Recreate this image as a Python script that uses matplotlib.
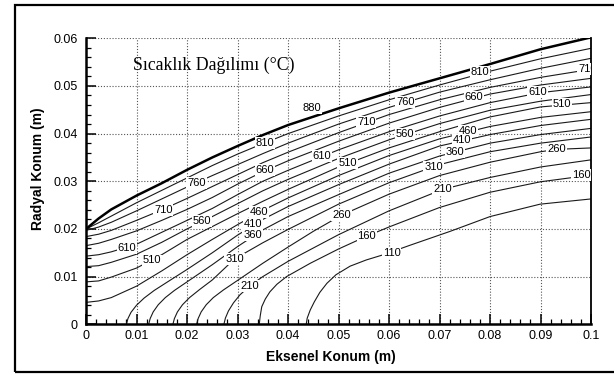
import matplotlib
matplotlib.use("Agg")
import matplotlib.pyplot as plt
from matplotlib.patches import Rectangle

plt.rcParams["font.family"] = ["Liberation Sans", "DejaVu Sans"]

# common x positions (m) for the isotherms that start on the left edge
X_LEFT = [0.0, 0.0025, 0.005, 0.01, 0.015, 0.02, 0.025, 0.03, 0.035, 0.04,
          0.05, 0.06, 0.07, 0.08, 0.09, 0.1]

# bold upper boundary (880)
Y_880 = [0.0200, 0.0222, 0.0241, 0.0270, 0.0296, 0.0324, 0.0350, 0.0374, 0.0397, 0.0418,
         0.0453, 0.0486, 0.0516, 0.0546, 0.0577, 0.0602]
Y_810 = [0.0200, 0.0213, 0.0227, 0.0255, 0.0281, 0.0307, 0.0333, 0.0357, 0.0379, 0.0400,
         0.0437, 0.0471, 0.0502, 0.0531, 0.0557, 0.0579]
Y_760 = [0.0197, 0.0204, 0.0214, 0.0238, 0.0263, 0.0288, 0.0312, 0.0335, 0.0358, 0.0380,
         0.0420, 0.0455, 0.0487, 0.0513, 0.0537, 0.0558]
Y_710 = [0.0184, 0.0189, 0.0197, 0.0218, 0.0240, 0.0264, 0.0289, 0.0314, 0.0339, 0.0361,
         0.0402, 0.0440, 0.0471, 0.0497, 0.0518, 0.0535]
Y_660 = [0.0165, 0.0170, 0.0178, 0.0196, 0.0218, 0.0241, 0.0266, 0.0294, 0.0320, 0.0343,
         0.0384, 0.0422, 0.0455, 0.0483, 0.0502, 0.0516]
Y_610 = [0.0143, 0.0146, 0.0152, 0.0168, 0.0193, 0.0218, 0.0243, 0.0272, 0.0300, 0.0323,
         0.0366, 0.0404, 0.0437, 0.0465, 0.0486, 0.0498]
Y_560 = [0.0121, 0.0123, 0.0130, 0.0147, 0.0172, 0.0200, 0.0226, 0.0253, 0.0280, 0.0304,
         0.0348, 0.0387, 0.0421, 0.0449, 0.0468, 0.0482]
Y_510 = [0.0089, 0.0091, 0.0099, 0.0118, 0.0146, 0.0178, 0.0205, 0.0232, 0.0258, 0.0283,
         0.0330, 0.0370, 0.0404, 0.0435, 0.0456, 0.0465]
Y_460 = [0.0046, 0.0049, 0.0056, 0.0080, 0.0112, 0.0146, 0.0178, 0.0209, 0.0239, 0.0265,
         0.0312, 0.0354, 0.0389, 0.0415, 0.0434, 0.0446]

# isotherms that start on the bottom axis
X_410 = [0.0080, 0.0083, 0.0089, 0.0100, 0.0115, 0.0135, 0.0160, 0.0200, 0.0250, 0.0300,
         0.0350, 0.0400, 0.0500, 0.0600, 0.0700, 0.0800, 0.0900, 0.1000]
Y_410 = [0.0, 0.0012, 0.0025, 0.0040, 0.0055, 0.0071, 0.0088, 0.0115, 0.0150, 0.0187,
         0.0220, 0.0247, 0.0293, 0.0336, 0.0374, 0.0398, 0.0417, 0.0430]
X_360 = [0.0124, 0.0127, 0.0133, 0.0143, 0.0157, 0.0175, 0.0200, 0.0250, 0.0300, 0.0350,
         0.0400, 0.0500, 0.0600, 0.0700, 0.0800, 0.0900, 0.1000]
Y_360 = [0.0, 0.0012, 0.0026, 0.0041, 0.0056, 0.0071, 0.0089, 0.0125, 0.0163, 0.0198,
         0.0226, 0.0272, 0.0317, 0.0353, 0.0380, 0.0398, 0.0411]
X_310 = [0.0172, 0.0175, 0.0181, 0.0191, 0.0205, 0.0225, 0.0250, 0.0294, 0.0350, 0.0400,
         0.0500, 0.0600, 0.0700, 0.0800, 0.0900, 0.1000]
Y_310 = [0.0, 0.0012, 0.0026, 0.0041, 0.0056, 0.0073, 0.0093, 0.0137, 0.0171, 0.0199,
         0.0252, 0.0297, 0.0335, 0.0362, 0.0380, 0.0393]
X_260 = [0.0219, 0.0222, 0.0228, 0.0238, 0.0252, 0.0272, 0.0300, 0.0350, 0.0400, 0.0450,
         0.0506, 0.0600, 0.0700, 0.0800, 0.0900, 0.0932, 0.1000]
Y_260 = [0.0, 0.0012, 0.0026, 0.0041, 0.0056, 0.0072, 0.0092, 0.0128, 0.0162, 0.0195,
         0.0229, 0.0273, 0.0312, 0.0340, 0.0362, 0.0367, 0.0370]
X_210 = [0.0273, 0.0276, 0.0282, 0.0292, 0.0305, 0.0325, 0.0350, 0.0400, 0.0450, 0.0500,
         0.0600, 0.0706, 0.0800, 0.0900, 0.1000]
Y_210 = [0.0, 0.0013, 0.0028, 0.0045, 0.0062, 0.0081, 0.0100, 0.0132, 0.0160, 0.0188,
         0.0238, 0.0283, 0.0308, 0.0330, 0.0345]
X_160 = [0.0343, 0.0345, 0.0348, 0.0355, 0.0364, 0.0378, 0.0397, 0.0444, 0.0500, 0.0556,
         0.0602, 0.0700, 0.0800, 0.0900, 0.1000]
Y_160 = [0.0, 0.0018, 0.0037, 0.0053, 0.0068, 0.0084, 0.0100, 0.0128, 0.0158, 0.0185,
         0.0205, 0.0245, 0.0277, 0.0299, 0.0313]
X_110 = [0.0436, 0.0438, 0.0444, 0.0452, 0.0463, 0.0477, 0.0495, 0.0523, 0.0555, 0.0589,
         0.0642, 0.0721, 0.0800, 0.0899, 0.1000]
Y_110 = [0.0, 0.0013, 0.0030, 0.0047, 0.0067, 0.0086, 0.0104, 0.0122, 0.0135, 0.0146,
         0.0166, 0.0195, 0.0226, 0.0252, 0.0263]

# contour labels (text, x, y)
LABEL_TEXT = ["880", "810", "810", "760", "760", "710", "710", "710", "660", "660",
              "610", "610", "610", "560", "560", "510", "510", "510", "460", "460",
              "410", "410", "360", "360", "310", "310", "260", "260", "210", "210",
              "160", "160", "110"]
LABEL_X = [0.0447, 0.0354, 0.0780, 0.0219, 0.0632, 0.0153, 0.0555, 0.0993, 0.0354, 0.0768,
           0.0081, 0.0467, 0.0894, 0.0229, 0.0632, 0.0130, 0.0518, 0.0942, 0.0342, 0.0757,
           0.0330, 0.0744, 0.0330, 0.0731, 0.0294, 0.0688, 0.0506, 0.0932, 0.0325, 0.0706,
           0.0556, 0.0980, 0.0605]
LABEL_Y = [0.0453, 0.0381, 0.0530, 0.0296, 0.0467, 0.0240, 0.0424, 0.0536, 0.0323, 0.0477,
           0.0160, 0.0353, 0.0488, 0.0217, 0.0399, 0.0134, 0.0338, 0.0462, 0.0236, 0.0405,
           0.0210, 0.0387, 0.0187, 0.0362, 0.0137, 0.0331, 0.0229, 0.0368, 0.0081, 0.0283,
           0.0185, 0.0313, 0.0149]

X_TICKS = [0.0, 0.01, 0.02, 0.03, 0.04, 0.05, 0.06, 0.07, 0.08, 0.09, 0.1]
X_TICK_LABELS = ["0", "0.01", "0.02", "0.03", "0.04", "0.05", "0.06", "0.07", "0.08", "0.09", "0.1"]
Y_TICKS = [0.0, 0.01, 0.02, 0.03, 0.04, 0.05, 0.06]
Y_TICK_LABELS = ["0", "0.01", "0.02", "0.03", "0.04", "0.05", "0.06"]


def main():
    fig = plt.figure(figsize=(6.14, 3.74), dpi=100)
    ax = fig.add_axes([0.1401, 0.1329, 0.8225, 0.7647])

    # outer frame (right side runs past the image edge)
    fig.patches.append(Rectangle((15 / 614, 2.3 / 374), 1.0, 367 / 374,
                                 transform=fig.transFigure, fill=False,
                                 lw=1.6, ec="black", clip_on=False))

    line_kw = dict(color="#1a1a1a", lw=0.8, solid_joinstyle="round")
    for y in (Y_810, Y_760, Y_710, Y_660, Y_610, Y_560, Y_510, Y_460):
        ax.plot(X_LEFT, y, **line_kw)
    for x, y in ((X_410, Y_410), (X_360, Y_360), (X_310, Y_310), (X_260, Y_260),
                 (X_210, Y_210), (X_160, Y_160), (X_110, Y_110)):
        ax.plot(x, y, **line_kw)
    ax.plot(X_LEFT, Y_880, color="black", lw=1.8)

    for t, x, y in zip(LABEL_TEXT, LABEL_X, LABEL_Y):
        txt = ax.text(x, y, t, fontsize=8, ha="center", va="center",
                      bbox=dict(boxstyle="square,pad=0.08", fc="white", ec="none"))
        txt.set_clip_path(ax.patch)
        txt.set_clip_on(True)

    ax.text(0.093, 0.907, "Sıcaklık Dağılımı (°C)", transform=ax.transAxes,
            fontsize=12.8, family=["Liberation Serif", "DejaVu Serif"],
            ha="left", va="center")

    ax.set_xlim(0, 0.1)
    ax.set_ylim(0, 0.06)
    ax.set_xticks(X_TICKS, X_TICK_LABELS)
    ax.set_yticks(Y_TICKS, Y_TICK_LABELS)
    ax.set_xticks([i * 0.002 for i in range(51)], minor=True)
    ax.set_yticks([i * 0.002 for i in range(31)], minor=True)
    ax.tick_params(which="major", direction="in", length=7.5, width=1.1,
                   labelsize=9, top=False, right=False)
    ax.tick_params(which="minor", direction="in", length=3.8, width=0.9,
                   top=False, right=False)
    ax.tick_params(axis="x", pad=4)
    ax.tick_params(axis="y", pad=6)

    ax.grid(True, which="major", color="#555555", lw=0.8, linestyle=(0, (1, 1.6)))
    ax.set_axisbelow(True)

    ax.spines["top"].set_visible(False)
    ax.spines["left"].set_linewidth(1.8)
    ax.spines["bottom"].set_linewidth(1.8)
    ax.spines["right"].set_linewidth(1.3)

    ax.set_xlabel("Eksenel Konum (m)", fontsize=10, fontweight="bold")
    ax.set_ylabel("Radyal Konum (m)", fontsize=10, fontweight="bold")
    ax.xaxis.set_label_coords(0.485, -0.090)
    ax.yaxis.set_label_coords(-0.081, 0.543)

    fig.savefig("out.png", dpi=100)


if __name__ == "__main__":
    main()
